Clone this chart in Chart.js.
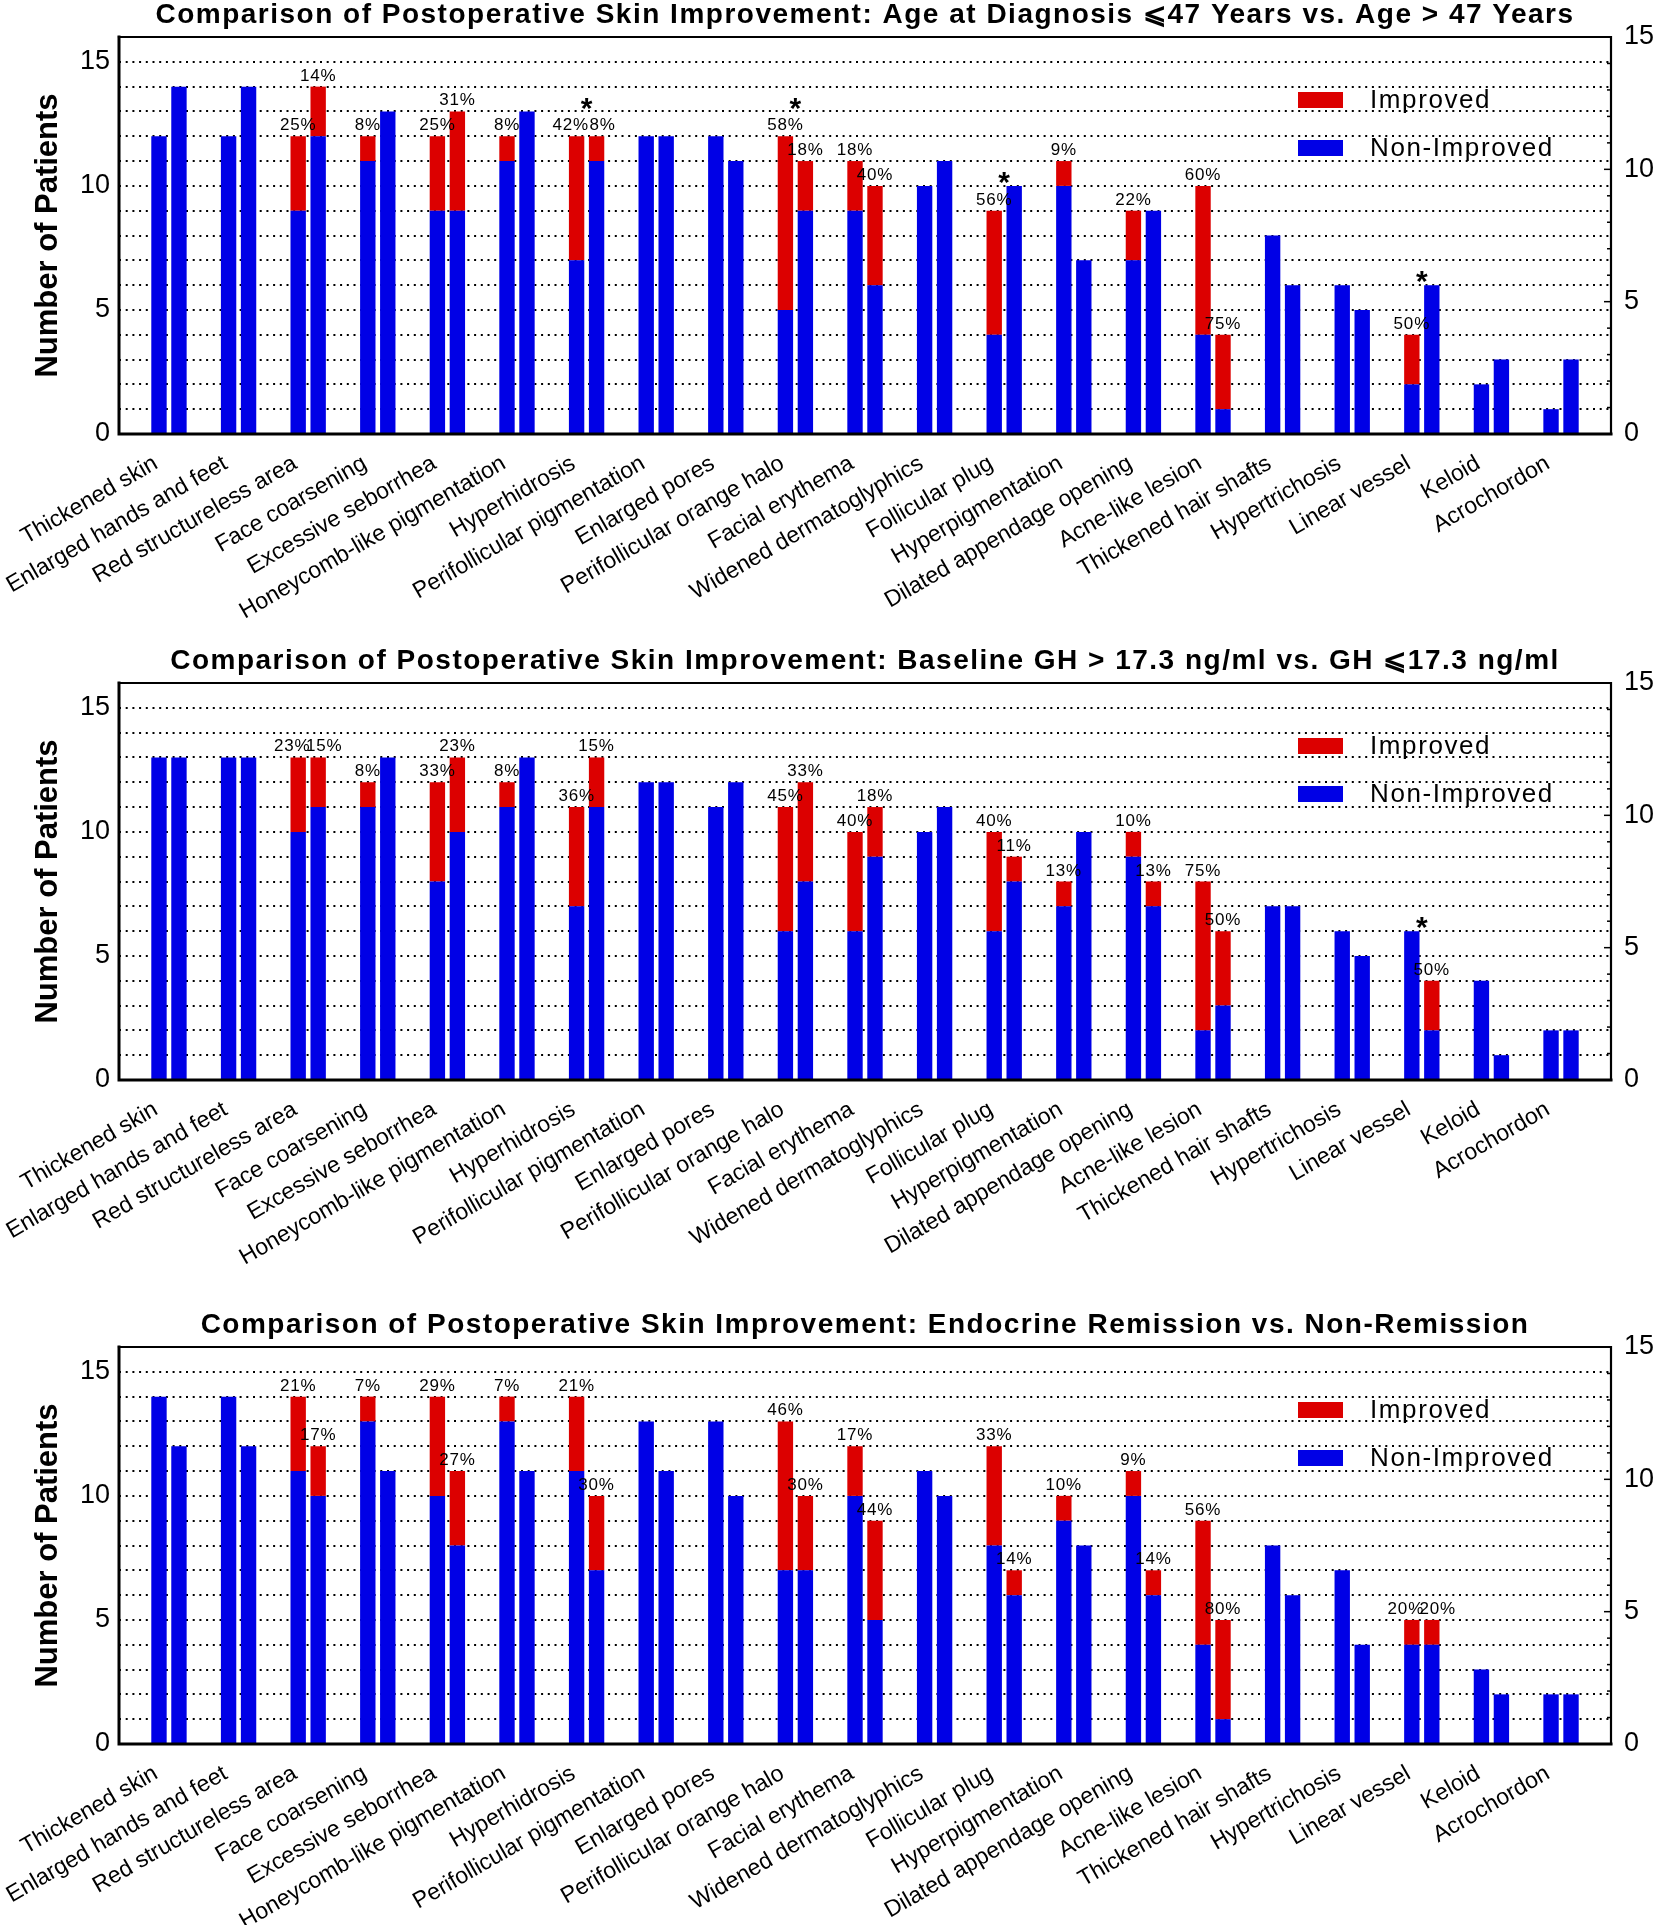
<!DOCTYPE html>
<html>
<head>
<meta charset="utf-8">
<title>Postoperative Skin Improvement</title>
<script src="https://cdn.jsdelivr.net/npm/chart.js@4.4.1/dist/chart.umd.min.js"></script>
<style>
  html, body { margin: 0; padding: 0; background: #fff; }
  body { width: 1654px; height: 1925px; overflow: hidden; position: relative; }
  .painel { position: absolute; left: 0; width: 1654px; height: 640px; }
</style>
</head>
<body>
<div class="painel" style="top:0px"><canvas id="chart1" width="1654" height="640"></canvas></div>
<div class="painel" style="top:646px"><canvas id="chart2" width="1654" height="640"></canvas></div>
<div class="painel" style="top:1310px"><canvas id="chart3" width="1654" height="640"></canvas></div>
<script>
const categories = [
    'Thickened skin', 'Enlarged hands and feet', 'Red structureless area', 'Face coarsening',
    'Excessive seborrhea', 'Honeycomb-like pigmentation', 'Hyperhidrosis', 'Perifollicular pigmentation',
    'Enlarged pores', 'Perifollicular orange halo', 'Facial erythema', 'Widened dermatoglyphics',
    'Follicular plug', 'Hyperpigmentation', 'Dilated appendage opening', 'Acne-like lesion',
    'Thickened hair shafts', 'Hypertrichosis', 'Linear vessel', 'Keloid', 'Acrochordon'
];
const leftTicks = [0, 5, 10, 15];
const rightTicks = [0, 5, 10, 15];

// Panel 1: age at diagnosis <=47 (left bar) vs >47 (right bar)
const ageLowNon  = [12, 12, 9, 11, 9, 11, 7, 12, 12, 5, 9, 10, 4, 10, 7, 4, 8, 6, 2, 2, 1];
const ageLowImp  = [0, 0, 3, 1, 3, 1, 5, 0, 0, 7, 2, 0, 5, 1, 2, 6, 0, 0, 2, 0, 0];
const ageHighNon = [14, 14, 12, 13, 9, 13, 11, 12, 11, 9, 6, 11, 10, 7, 9, 1, 6, 5, 6, 3, 3];
const ageHighImp = [0, 0, 2, 0, 4, 0, 1, 0, 0, 2, 4, 0, 0, 0, 0, 3, 0, 0, 0, 0, 0];
const ageSig     = [0, 0, 0, 0, 0, 0, 1, 0, 0, 1, 0, 0, 1, 0, 0, 0, 0, 0, 1, 0, 0];

// Panel 2: baseline GH > 17.3 (left) vs <= 17.3 (right)
const ghHighNon = [13, 13, 10, 11, 8, 11, 7, 12, 11, 6, 6, 10, 6, 7, 9, 2, 7, 6, 6, 4, 2];
const ghHighImp = [0, 0, 3, 1, 4, 1, 4, 0, 0, 5, 4, 0, 4, 1, 1, 6, 0, 0, 0, 0, 0];
const ghLowNon  = [13, 13, 11, 13, 10, 13, 11, 12, 12, 8, 9, 11, 8, 10, 7, 3, 7, 5, 2, 1, 2];
const ghLowImp  = [0, 0, 2, 0, 3, 0, 2, 0, 0, 4, 2, 0, 1, 0, 1, 3, 0, 0, 2, 0, 0];
const ghSig     = [0, 0, 0, 0, 0, 0, 0, 0, 0, 0, 0, 0, 0, 0, 0, 0, 0, 0, 1, 0, 0];

// Panel 3: endocrine remission (left) vs non-remission (right)
const remNon    = [14, 14, 11, 13, 10, 13, 11, 13, 13, 7, 10, 11, 8, 9, 10, 4, 8, 7, 4, 3, 2];
const remImp    = [0, 0, 3, 1, 4, 1, 3, 0, 0, 6, 2, 0, 4, 1, 1, 5, 0, 0, 1, 0, 0];
const nonRemNon = [12, 12, 10, 11, 8, 11, 7, 11, 10, 7, 5, 10, 6, 8, 6, 1, 6, 4, 4, 2, 2];
const nonRemImp = [0, 0, 2, 0, 3, 0, 3, 0, 0, 3, 4, 0, 1, 0, 1, 4, 0, 0, 1, 0, 0];
const remSig    = [0, 0, 0, 0, 0, 0, 0, 0, 0, 0, 0, 0, 0, 0, 0, 0, 0, 0, 0, 0, 0];

const RED = '#dc0000';
const BLUE = '#0000e6';
const FONT = "Arial, 'Liberation Sans', Helvetica, sans-serif";
const EDGE = 0.718;          // empty space at each end of the x axis, in categories
const PLOT_TOP = 37;
const PLOT_LEFT = 119;
const PLOT_RIGHT = 1611;
const PLOT_BOTTOM = 434;
const STAR = 30;

Chart.defaults.font.family = FONT;
Chart.defaults.color = '#000';

function percentLabels(non, imp) {
    return imp.map((v, i) => v > 0 ? Math.round(v / (v + non[i]) * 100) + '%' : '');
}

// category axis with a wider gap before the first and after the last category
const categoryPad = {
    id: 'categoryPad',
    afterLayout(chart) {
        const x = chart.scales.x;
        x._startValue = -EDGE;
        x._valueRange = categories.length - 1 + 2 * EDGE;
    }
};

function montarPainel(canvasId, titulo, nonA, impA, nonB, impB, sig) {
    const canvas = document.getElementById(canvasId);
    const H = canvas.height;
    const pctA = percentLabels(nonA, impA);
    const pctB = percentLabels(nonB, impB);

    const datasets = [
        { label: 'Non-Improved', data: nonA, backgroundColor: BLUE, stack: 'a' },
        { label: 'Improved', data: impA, backgroundColor: RED, stack: 'a' },
        { label: 'Non-Improved', data: nonB, backgroundColor: BLUE, stack: 'b' },
        { label: 'Improved', data: impB, backgroundColor: RED, stack: 'b' }
    ];
    datasets.forEach(d => {
        d.borderWidth = 0;
        d.categoryPercentage = 0.574;
        d.barPercentage = 0.77;
    });

    const extras = {
        id: 'extras',
        afterDatasetsDraw(chart) {
            const ctx = chart.ctx;
            const y = chart.scales.y;
            const x = chart.scales.x;
            const metaA = chart.getDatasetMeta(1);
            const metaB = chart.getDatasetMeta(3);

            ctx.save();
            ctx.fillStyle = '#000';
            ctx.textAlign = 'center';
            ctx.textBaseline = 'alphabetic';
            ctx.font = '17px ' + FONT;
            ctx.letterSpacing = '0.8px';
            categories.forEach((c, i) => {
                const tA = nonA[i] + impA[i];
                const tB = nonB[i] + impB[i];
                // side by side labels at the same height are pushed apart
                const nudge = (pctA[i] && pctB[i] && tA === tB) ? 6 : 0;
                if (pctA[i]) ctx.fillText(pctA[i], metaA.data[i].x - nudge, y.getPixelForValue(tA) - 6);
                if (pctB[i]) ctx.fillText(pctB[i], metaB.data[i].x + nudge, y.getPixelForValue(tB) - 6);
            });

            // significance asterisks
            ctx.font = 'bold ' + STAR + 'px ' + FONT;
            ctx.letterSpacing = '0px';
            sig.forEach((s, i) => {
                if (!s) return;
                const tA = nonA[i] + impA[i];
                const tB = nonB[i] + impB[i];
                const top = Math.max(tA, tB);
                const labelled = (tA === top && impA[i] > 0) || (tB === top && impB[i] > 0);
                const yc = y.getPixelForValue(top + (labelled ? 1.45 : 0.45));
                ctx.fillText('*', x.getPixelForValue(i), yc + 0.575 * STAR);
            });
            ctx.restore();
        },
        afterDraw(chart) {
            const ctx = chart.ctx;
            const a = chart.chartArea;
            const y2 = chart.scales.y2;
            ctx.save();
            ctx.strokeStyle = '#000';
            ctx.lineCap = 'square';
            // frame
            ctx.lineWidth = 2.2;
            ctx.beginPath();
            ctx.moveTo(a.left, a.top); ctx.lineTo(a.right, a.top); ctx.lineTo(a.right, a.bottom);
            ctx.stroke();
            ctx.lineWidth = 3;
            ctx.beginPath();
            ctx.moveTo(a.left, a.top); ctx.lineTo(a.left, a.bottom); ctx.lineTo(a.right, a.bottom);
            ctx.stroke();
            // inward ticks of the right axis
            ctx.lineWidth = 1.5;
            ctx.lineCap = 'butt';
            for (let v = y2.min; v <= y2.max; v++) {
                const py = y2.getPixelForValue(v);
                const len = v % 5 === 0 ? 7 : 4;
                ctx.beginPath();
                ctx.moveTo(a.right - len, py); ctx.lineTo(a.right, py);
                ctx.stroke();
            }
            // title, centred over the plot
            ctx.fillStyle = '#000';
            ctx.font = 'bold 28px ' + FONT;
            ctx.letterSpacing = '1.5px';
            ctx.textAlign = 'center';
            ctx.textBaseline = 'middle';
            ctx.fillText(titulo, (a.left + a.right) / 2, 15);
            // legend
            const items = [chart.data.datasets[1], chart.data.datasets[0]];
            ctx.font = '26px ' + FONT;
            ctx.letterSpacing = '1.6px';
            ctx.textAlign = 'left';
            items.forEach((d, k) => {
                const top = a.top + 55 + k * 48;
                ctx.fillStyle = d.backgroundColor;
                ctx.fillRect(a.right - 313, top, 45, 16);
                ctx.fillStyle = '#000';
                ctx.fillText(d.label, a.right - 241, top + 9);
            });
            ctx.restore();
        }
    };

    new Chart(canvas, {
        type: 'bar',
        data: { labels: categories, datasets: datasets },
        options: {
            responsive: false,
            animation: false,
            devicePixelRatio: 1,
            layout: { padding: { top: PLOT_TOP, left: 0, right: 0, bottom: 0 } },
            plugins: {
                legend: { display: false },
                tooltip: { enabled: false },
                title: { display: false }
            },
            scales: {
                x: {
                    type: 'category',
                    stacked: true,
                    grid: { display: false },
                    border: { display: false },
                    ticks: {
                        autoSkip: false,
                        minRotation: 30,
                        maxRotation: 30,
                        padding: 8,
                        labelOffset: -13,
                        font: { size: 23 },
                        color: '#000'
                    },
                    afterFit: s => { s.height = H - PLOT_BOTTOM; }
                },
                y: {
                    position: 'left',
                    stacked: true,
                    min: 0,
                    max: 16,
                    grid: { color: '#000', lineWidth: 2, drawTicks: false },
                    border: { display: false, dash: [2, 4.7] },
                    ticks: {
                        stepSize: 1,
                        autoSkip: false,
                        padding: 9,
                        font: { size: 27 },
                        color: '#000',
                        callback: v => leftTicks.includes(v) ? String(v) : ''
                    },
                    title: {
                        display: true,
                        text: 'Number of Patients',
                        color: '#000',
                        font: { size: 31, weight: 'bold' },
                        padding: { top: 30, bottom: 0 }
                    },
                    afterFit: s => { s.width = PLOT_LEFT; }
                },
                y2: {
                    position: 'right',
                    min: 0,
                    max: 15,
                    grid: { display: false, drawTicks: false },
                    border: { display: false },
                    ticks: {
                        stepSize: 1,
                        autoSkip: false,
                        padding: 13,
                        font: { size: 27 },
                        color: '#000',
                        callback: v => rightTicks.includes(v) ? String(v) : ''
                    },
                    afterFit: s => { s.width = 1654 - PLOT_RIGHT; }
                }
            }
        },
        plugins: [categoryPad, extras]
    });
}

montarPainel('chart1',
    'Comparison of Postoperative Skin Improvement: Age at Diagnosis \u2A7D47 Years vs. Age > 47 Years',
    ageLowNon, ageLowImp, ageHighNon, ageHighImp, ageSig);
montarPainel('chart2',
    'Comparison of Postoperative Skin Improvement: Baseline GH > 17.3 ng/ml vs. GH \u2A7D17.3 ng/ml',
    ghHighNon, ghHighImp, ghLowNon, ghLowImp, ghSig);
montarPainel('chart3',
    'Comparison of Postoperative Skin Improvement: Endocrine Remission vs. Non-Remission',
    remNon, remImp, nonRemNon, nonRemImp, remSig);
</script>
</body>
</html>
